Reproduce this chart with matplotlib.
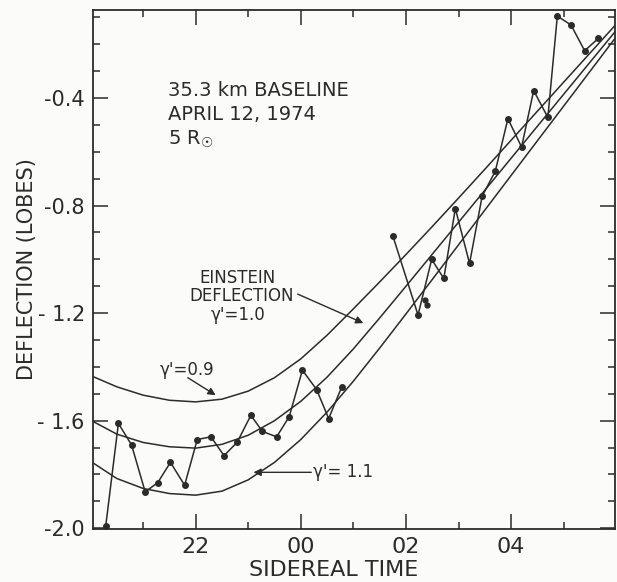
import numpy as np
import matplotlib
matplotlib.use('Agg')
import matplotlib.pyplot as plt
from matplotlib.ticker import MultipleLocator

# sidereal time in hours (past 24 = next day: 24 -> 00, 26 -> 02 ...)
curve_t = [20.0, 20.5, 21.0, 21.5, 22.0, 22.5, 23.0, 23.5, 24.0, 24.5, 25.0,
           25.5, 26.0, 26.5, 27.0, 27.5, 28.0, 28.5, 29.0, 29.5, 30.0]
gamma_09 = [-1.432, -1.474, -1.505, -1.524, -1.530, -1.520, -1.490, -1.440, -1.370, -1.282, -1.184,
            -1.084, -0.982, -0.878, -0.772, -0.665, -0.557, -0.449, -0.341, -0.233, -0.125]
gamma_10 = [-1.598, -1.650, -1.681, -1.697, -1.702, -1.688, -1.654, -1.600, -1.528, -1.438, -1.333,
            -1.218, -1.100, -0.981, -0.862, -0.743, -0.624, -0.505, -0.386, -0.267, -0.148]
gamma_11 = [-1.751, -1.815, -1.852, -1.871, -1.877, -1.862, -1.820, -1.755, -1.670, -1.568, -1.453,
            -1.330, -1.203, -1.075, -0.946, -0.817, -0.688, -0.559, -0.430, -0.301, -0.172]

# measured deflection, first run
obs1_t = [20.29, 20.53, 20.78, 21.04, 21.28, 21.52, 21.79, 22.03, 22.29, 22.54,
          22.79, 23.05, 23.27, 23.54, 23.78, 24.03, 24.30, 24.53, 24.78]
obs1_d = [-1.99, -1.61, -1.69, -1.865, -1.83, -1.755, -1.84, -1.67, -1.66, -1.73,
          -1.68, -1.58, -1.64, -1.66, -1.585, -1.412, -1.484, -1.592, -1.474]
# second run
obs2_t = [25.75, 26.23, 26.49, 26.72, 26.94, 27.21, 27.45, 27.70, 27.94, 28.20,
          28.43, 28.70, 28.88, 29.14, 29.40, 29.66]
obs2_d = [-0.912, -1.207, -1.000, -1.071, -0.811, -1.015, -0.765, -0.672, -0.477, -0.582,
          -0.372, -0.472, -0.095, -0.128, -0.224, -0.178]
# loose points
extra_t = [26.37, 26.40]
extra_d = [-1.152, -1.170]

xticks = [22, 24, 26, 28]
xticklabels = ['22', '00', '02', '04']
yticks = [-2.0, -1.6, -1.2, -0.8, -0.4]
yticklabels = ['-2.0', '- 1.6', '- 1.2', '-0.8', '-0.4']

ink = '#2b2b2b'
plt.rcParams['font.family'] = ['DejaVu Sans']

fig = plt.figure(figsize=(6.17, 5.82), dpi=100, facecolor='#fbfbf9')
ax = fig.add_axes([0.151, 0.091, 0.846, 0.892])
ax.set_facecolor('#fbfbf9')

for c in (gamma_09, gamma_10, gamma_11):
    ax.plot(curve_t, c, color=ink, lw=1.1)

ax.plot(obs1_t, obs1_d, color=ink, lw=1.1, marker='o', ms=4, mfc=ink, mec=ink)
ax.plot(obs2_t, obs2_d, color=ink, lw=1.1, marker='o', ms=4, mfc=ink, mec=ink)
ax.plot(extra_t, extra_d, ls='none', marker='o', ms=3.5, mfc=ink, mec=ink)

ax.set_xlim(20.05, 29.98)
ax.set_ylim(-2.003, -0.072)
ax.set_xticks(xticks)
ax.set_xticklabels(xticklabels)
ax.set_yticks(yticks)
ax.set_yticklabels(yticklabels)
ax.xaxis.set_minor_locator(MultipleLocator(1))
ax.yaxis.set_minor_locator(MultipleLocator(0.1))
ax.tick_params(which='both', direction='in', top=True, right=True, color=ink, width=1.1)
ax.tick_params(which='major', length=11)
ax.tick_params(which='minor', length=5)
ax.tick_params(axis='x', labelsize=16, pad=6, labelcolor=ink)
ax.tick_params(axis='y', labelsize=15, pad=6, labelcolor=ink)
for s in ax.spines.values():
    s.set_color(ink)
    s.set_linewidth(1.3)

ax.set_xlabel('SIDEREAL TIME', fontsize=16, color=ink, labelpad=1)
ax.xaxis.set_label_coords(0.46, -0.06)
ax.set_ylabel('DEFLECTION (LOBES)', fontsize=15, color=ink, labelpad=0)

# text block
ax.text(21.47, -0.370, '35.3 km BASELINE', fontsize=14, color=ink, va='center')
ax.text(21.47, -0.460, 'APRIL 12, 1974', fontsize=14, color=ink, va='center')
ax.text(21.47, -0.553, '5 R$_{\u2609}$', fontsize=14, color=ink, va='center')

# curve labels
ax.text(22.80, -1.070, 'EINSTEIN', fontsize=12, color=ink, ha='center', va='center')
ax.text(22.87, -1.137, 'DEFLECTION', fontsize=12, color=ink, ha='center', va='center')
ax.text(22.80, -1.207, "γ'=1.0", fontsize=12, color=ink, ha='center', va='center')
arrow = dict(arrowstyle='-|>', color=ink, lw=1.0, mutation_scale=11, shrinkA=0, shrinkB=0)
ax.annotate('', xy=(25.19, -1.237), xytext=(23.94, -1.129), arrowprops=arrow)

ax.text(21.83, -1.412, "γ'=0.9", fontsize=12, color=ink, ha='center', va='center')
ax.annotate('', xy=(22.38, -1.505), xytext=(21.85, -1.440), arrowprops=arrow)

ax.text(24.24, -1.792, "γ'= 1.1", fontsize=12, color=ink, ha='left', va='center')
ax.annotate('', xy=(23.10, -1.792), xytext=(24.20, -1.792), arrowprops=arrow)

fig.savefig('out.png', dpi=100, facecolor=fig.get_facecolor())
